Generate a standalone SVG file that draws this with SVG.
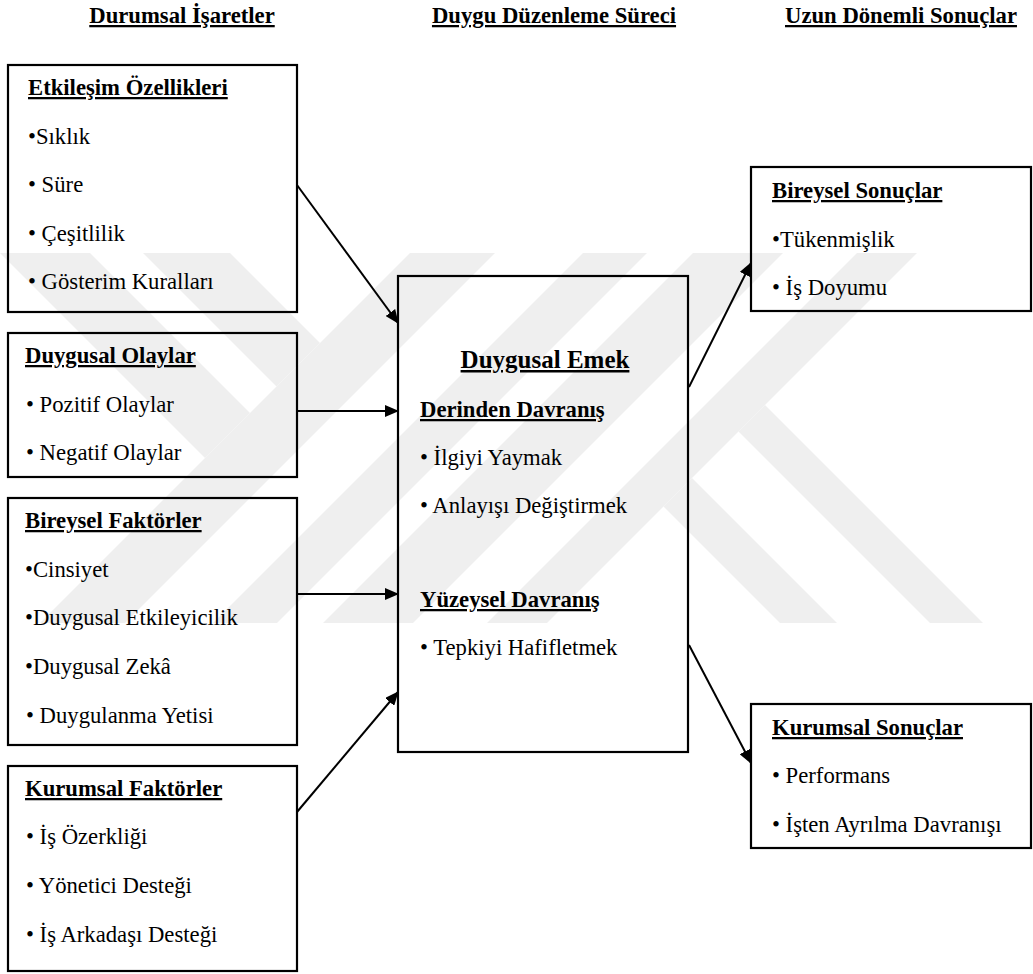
<svg xmlns="http://www.w3.org/2000/svg" width="1033" height="974" viewBox="0 0 1033 974">
<defs>
<style>
text{font-family:'Liberation Serif','Times New Roman',Tinos,'Noto Serif','Nimbus Roman','FreeSerif','DejaVu Serif',serif;font-size:22.7px;fill:#000}
.h{font-weight:bold;text-decoration:underline}
.box{fill:none;stroke:#000;stroke-width:2.2}
.con{stroke:#000;stroke-width:2;fill:none;marker-end:url(#ah)}
.wm{fill:#efefef;stroke:none}
</style>
<marker id="ah" viewBox="0 0 14 12" refX="13" refY="6" markerWidth="14" markerHeight="12" markerUnits="userSpaceOnUse" orient="auto">
<path d="M0,0 L14,6 L0,12 Z" fill="#000"/>
</marker>
</defs>
<rect width="1033" height="974" fill="#fff"/>
<g id="watermark">
<polygon class="wm" points="410,253 495,253 125,623 40,623"/>
<polygon class="wm" points="143,253 230,253 320,343 276.5,386.5"/>
<polygon class="wm" points="0,253 90,253 250,413 205,458"/>
<polygon class="wm" points="583,253 647,253 277,623 213,623"/>
<polygon class="wm" points="693,253 783,253 413,623 323,623"/>
<polygon class="wm" points="857,253 917,253 547,623 487,623"/>
<polygon class="wm" points="930,623 983,623 765,405 738.5,431.5"/>
<polygon class="wm" points="780,623 837,623 692,478 663.5,506.5"/>
</g>
<g id="headers">
<text class="h" x="182" y="23" text-anchor="middle">Durumsal İşaretler</text>
<text class="h" x="554" y="23" text-anchor="middle">Duygu Düzenleme Süreci</text>
<text class="h" x="901" y="23" text-anchor="middle">Uzun Dönemli Sonuçlar</text>
</g>
<g id="etkilesim">
<rect class="box" x="8" y="65" width="289" height="247"/>
<text class="h" x="28" y="95">Etkileşim Özellikleri</text>
<text x="28" y="143.5">•Sıklık</text>
<text x="28" y="192">• Süre</text>
<text x="28" y="240.5">• Çeşitlilik</text>
<text x="28" y="289">• Gösterim Kuralları</text>
</g>
<g id="duygusal-olaylar">
<rect class="box" x="8" y="333" width="289" height="144"/>
<text class="h" x="25" y="363">Duygusal Olaylar</text>
<text x="26" y="412">• Pozitif Olaylar</text>
<text x="26" y="460">• Negatif Olaylar</text>
</g>
<g id="bireysel-faktorler">
<rect class="box" x="8" y="498" width="289" height="247"/>
<text class="h" x="25" y="528">Bireysel Faktörler</text>
<text x="25" y="577">•Cinsiyet</text>
<text x="25" y="625">•Duygusal Etkileyicilik</text>
<text x="25" y="674">•Duygusal Zekâ</text>
<text x="26" y="723">• Duygulanma Yetisi</text>
</g>
<g id="kurumsal-faktorler">
<rect class="box" x="8" y="766" width="289" height="205"/>
<text class="h" x="25" y="796">Kurumsal Faktörler</text>
<text x="26" y="844">• İş Özerkliği</text>
<text x="26" y="893">• Yönetici Desteği</text>
<text x="26" y="942">• İş Arkadaşı Desteği</text>
</g>
<g id="duygusal-emek">
<rect class="box" x="398" y="276" width="290" height="476"/>
<text class="h" x="545" y="368" text-anchor="middle" style="font-size:25px">Duygusal Emek</text>
<text class="h" x="420" y="417">Derinden Davranış</text>
<text x="420" y="465">• İlgiyi Yaymak</text>
<text x="420" y="513">• Anlayışı Değiştirmek</text>
<text class="h" x="420" y="607">Yüzeysel Davranış</text>
<text x="420" y="655">• Tepkiyi Hafifletmek</text>
</g>
<g id="bireysel-sonuclar">
<rect class="box" x="751" y="167" width="280" height="144"/>
<text class="h" x="772" y="198">Bireysel Sonuçlar</text>
<text x="772" y="247">•Tükenmişlik</text>
<text x="772" y="295">• İş Doyumu</text>
</g>
<g id="kurumsal-sonuclar">
<rect class="box" x="751" y="704" width="280" height="144"/>
<text class="h" x="772" y="735">Kurumsal Sonuçlar</text>
<text x="772" y="783">• Performans</text>
<text x="772" y="832">• İşten Ayrılma Davranışı</text>
</g>
<g id="connectors">
<line class="con" x1="297" y1="185" x2="398" y2="323"/>
<line class="con" x1="297" y1="411" x2="398" y2="411"/>
<line class="con" x1="297" y1="594" x2="398" y2="594"/>
<line class="con" x1="297" y1="812" x2="398" y2="692"/>
<line class="con" x1="689" y1="387" x2="751" y2="263"/>
<line class="con" x1="689" y1="645" x2="751" y2="763"/>
</g>
</svg>
